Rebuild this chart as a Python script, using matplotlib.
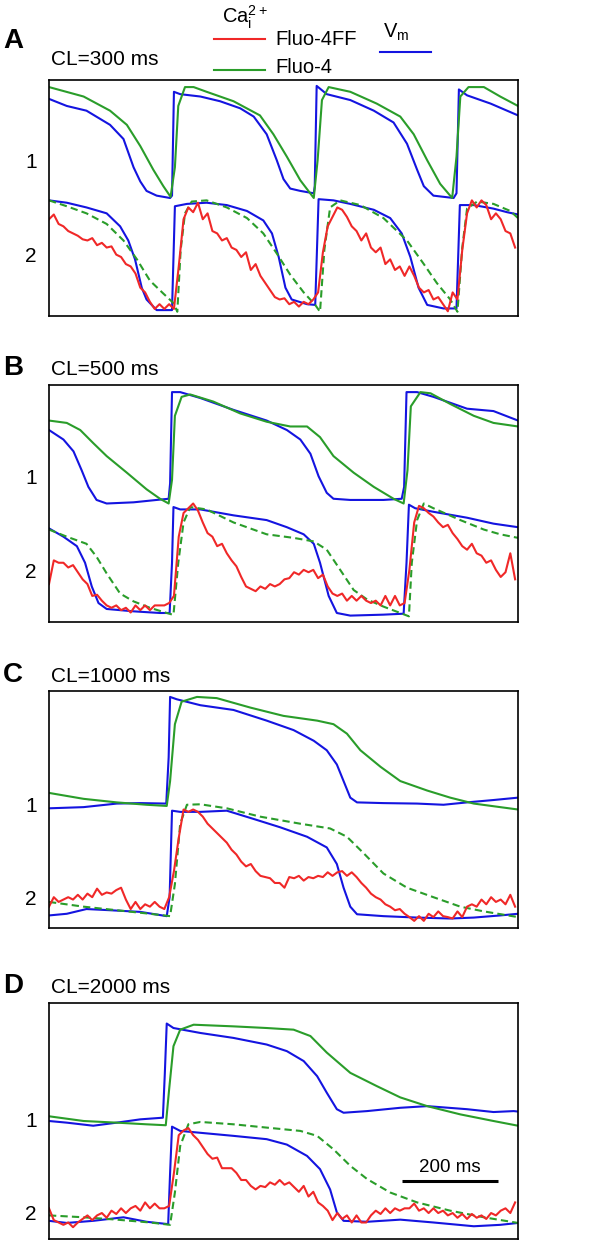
import numpy as np
import matplotlib.pyplot as plt

plt.rcParams['font.family'] = ['Liberation Sans', 'DejaVu Sans']

RED = '#f02828'
GREEN = '#2a9d2a'
BLUE = '#1414e0'

# Fluo-4FF sample times (ms), same for every panel
t_ff = np.arange(0, 980, 10)

# ---------- A: CL=300 ms  (time ms, signal % of panel height) ----------
a_vm1_t = [0, 37, 78, 127, 155, 176, 190, 203, 224, 252, 256, 260, 273, 315, 356, 398, 426, 453, 474, 488,
           502, 523, 551, 553, 557, 578, 627, 676, 717, 745, 766, 780, 800, 842, 848, 853, 870, 919, 976]
a_vm1_y = [92, 89, 87, 81, 75, 63, 57, 53, 51, 50, 51, 95, 94, 93, 91, 88, 84.5, 77, 66, 58,
           54, 53, 52, 55, 97.5, 94, 91.5, 87, 82, 73, 62, 55, 51, 50, 52, 96, 93.5, 90, 85]
a_ca1_t = [0, 72, 127, 162, 190, 217, 238, 253, 262, 269, 283, 301, 328, 384, 439, 467, 495, 523, 551,
           559, 568, 582, 627, 682, 731, 759, 787, 814, 839, 848, 856, 873, 905, 939, 976]
a_ca1_y = [97, 93, 87, 81, 72, 62, 55, 50.5, 63, 89, 97, 97, 95, 91, 85, 77, 67.5, 57.5, 50,
           66, 91.5, 97, 95, 90, 84.5, 77, 66, 56, 50, 67.5, 93, 97, 97, 93, 89]
a_vm2_t = [0, 37, 78, 120, 148, 165, 179, 193, 203, 224, 256, 262, 287, 328, 370, 412, 446, 464, 478, 492,
           505, 537, 554, 561, 592, 627, 676, 710, 734, 752, 769, 787, 821, 848, 855, 884, 925, 953, 976]
a_vm2_y = [49, 48, 46, 43.5, 38, 32, 24, 12, 7, 2.5, 2.5, 46.5, 47.5, 48, 47, 44.5, 40.5, 35, 25, 12,
           7, 5, 4.7, 49.5, 49, 47.5, 45, 41.5, 35, 25, 12, 4.7, 3.2, 3.2, 47, 47, 45.5, 44, 43]
a_ca2_t = [0, 37, 78, 120, 155, 183, 210, 238, 259, 267, 274, 283, 297, 328, 370, 412, 446, 474, 502, 530,
           554, 564, 573, 585, 606, 648, 696, 745, 780, 807, 835, 850, 860, 870, 891, 925, 960, 976]
a_ca2_y = [49, 46.5, 43.5, 39, 32, 24, 15, 9.5, 5.5, 1.8, 28, 43.5, 48.5, 49, 46, 41.5, 35, 26.5, 17.5, 10,
           4.7, 1.8, 28, 46, 49, 47, 41.5, 32, 22, 14, 7, 1.8, 29, 45.5, 48.5, 47.5, 44.5, 41.5]
a_ff_y = [41, 43, 39, 38, 36, 35, 34, 32.5, 32, 33,
          30, 31, 29, 29.5, 26, 25, 22, 21, 18, 12,
          10, 6, 3, 5, 3, 5, 3, 21, 41, 46,
          44, 48, 41, 43.5, 36, 35, 32, 33, 29, 28,
          25, 27, 19.5, 22, 17, 14, 11, 8, 7, 7.5,
          5, 6, 4, 6, 5, 7, 10, 27, 38, 42,
          46, 45, 42, 38, 36, 32, 35, 29, 27, 29,
          22, 24, 19.5, 21, 17, 21, 17, 12, 10, 11,
          7, 8, 5, 2, 10, 7, 28, 43.5, 49, 46,
          49, 47, 41, 43.5, 41, 36, 35, 29]

# ---------- B: CL=500 ms ----------
b_vm1_t = [0, 30, 51, 68, 82, 99, 120, 176, 224, 249, 252, 256, 273, 315, 384, 453, 495, 523, 544, 561,
           578, 592, 627, 696, 734, 739, 744, 766, 800, 870, 925, 976]
b_vm1_y = [81, 77, 72, 64, 57, 51.5, 50, 50.5, 51.5, 52, 58.5, 97, 97, 94.5, 89.5, 85, 81, 77, 71, 61.5,
           54.5, 52, 51.5, 51.5, 52, 57, 97, 97, 95, 90, 89, 85]
b_ca1_t = [0, 37, 65, 92, 120, 162, 203, 231, 249, 256, 262, 276, 294, 342, 398, 453, 502, 537, 564, 592,
           634, 676, 717, 738, 746, 753, 773, 794, 835, 884, 925, 976]
b_ca1_y = [85, 84, 81, 75.5, 70, 63, 56, 52, 50, 60, 87, 95, 96, 93, 88, 84.5, 82.5, 82.5, 78, 70,
           63, 57, 52, 50, 64, 91, 97, 96.5, 92, 87, 84, 82.5]
b_vm2_t = [0, 30, 58, 75, 89, 103, 120, 176, 231, 251, 256, 259, 273, 315, 384, 453, 495, 530, 551, 564,
           582, 599, 627, 696, 738, 744, 749, 762, 800, 870, 925, 976]
b_vm2_y = [39.5, 36, 32, 25, 15, 8, 5.5, 4.5, 3.8, 3.8, 25, 48.5, 47.5, 47.5, 45, 43, 40, 37, 33, 25,
           11, 3.8, 2.7, 3.1, 3.5, 25, 49.5, 48, 46.5, 44, 41.5, 40]
b_ca2_t = [0, 37, 78, 99, 120, 148, 176, 210, 245, 259, 269, 280, 294, 328, 384, 453, 509, 551, 578, 606,
           634, 662, 696, 731, 749, 755, 766, 780, 800, 856, 905, 939, 976]
b_ca2_y = [39, 36, 33, 27.5, 20.5, 12, 8.7, 6, 3.8, 3, 25, 42, 48.5, 47.5, 42, 37, 35.5, 34, 30.5, 22,
           13.5, 9.5, 6.5, 3.8, 2.4, 25, 43, 50, 48, 43, 39, 37, 35.5]
b_ff_y = [16, 26, 25, 25, 23, 24, 21, 18, 16, 11,
          11.5, 9, 7, 6, 7, 5, 6, 4, 7, 5,
          7, 5, 7, 7, 7, 8, 11, 36, 46, 48,
          50, 47, 42, 37.5, 36, 32, 33, 29, 26, 23.5,
          19, 15, 14, 13, 15, 14, 16, 15, 16, 18,
          18.5, 21, 20, 22, 21, 22, 18.5, 20, 15, 12,
          11, 12, 9, 11, 9, 11, 9, 8, 9, 7,
          11, 7, 11, 7, 8, 22, 42, 49, 48, 46,
          44.5, 42, 40, 41, 37.5, 35, 32, 30.5, 33, 29,
          28, 25, 26, 22, 19, 21, 29, 18]

# ---------- C: CL=1000 ms ----------
c_vm1_t = [0, 72, 141, 190, 244, 249, 252, 266, 315, 384, 453, 509, 551, 578, 599, 613, 627, 641, 696, 766,
           821, 870, 925, 976]
c_vm1_y = [50.5, 51, 52.5, 52.7, 52.5, 72, 97.5, 96.5, 94, 92, 87.5, 83.5, 79, 75, 69, 62, 55, 53, 52.7, 52.5,
           52, 53, 54, 55]
c_ca1_t = [0, 72, 141, 203, 245, 252, 262, 276, 308, 349, 419, 488, 558, 592, 620, 648, 690, 731, 787, 835,
           884, 939, 976]
c_ca1_y = [57, 54.5, 53, 52, 51.5, 62, 86, 95.5, 97.5, 97, 93, 89.5, 87.5, 86, 82, 75, 68, 62, 58, 55,
           52.5, 51, 50]
c_vm2_t = [0, 37, 78, 127, 190, 245, 251, 256, 273, 315, 370, 426, 481, 537, 578, 599, 613, 627, 641, 696,
           766, 835, 884, 939, 976]
c_vm2_y = [5.3, 6, 8, 7.5, 6.8, 5, 13, 49.5, 49, 49, 49.5, 46, 42.5, 38.5, 34, 27, 17, 9, 5.8, 5,
           4.4, 4, 4.4, 5.3, 6]
c_ca2_t = [0, 72, 141, 210, 252, 262, 273, 287, 315, 370, 439, 523, 585, 620, 655, 696, 745, 800, 856, 905,
           976]
c_ca2_y = [11, 9, 7.5, 6, 5, 18.5, 44, 52, 52.2, 50.5, 47, 44, 42, 38.5, 31.5, 23, 17, 13, 9, 7,
           4.6]
c_ff_y = [9, 13, 11, 12, 13, 12, 14, 12, 14.5, 13,
          16.6, 14, 15, 14.5, 16, 17, 12, 8, 11, 8,
          10, 9, 11, 9, 8, 13, 24, 38, 50, 49,
          50, 49, 47, 44, 42, 40, 38, 36, 33, 31,
          28, 26, 27, 24, 22, 21.5, 21, 19, 19, 17,
          21.5, 21, 22, 20, 21.5, 21, 22, 21.5, 23.5, 22,
          23.5, 24, 22, 23.5, 21.5, 19, 17, 14.5, 13, 12,
          10, 9, 7.5, 8, 6, 4.6, 3, 5, 3, 6,
          4.6, 7, 5, 4.6, 4, 7, 4.6, 9, 10, 9,
          12, 10, 13, 11, 12, 10, 14, 9]

# ---------- D: CL=2000 ms ----------
d_vm1_t = [0, 37, 92, 141, 190, 237, 241, 245, 259, 315, 384, 453, 495, 530, 558, 578, 599, 613, 662, 731,
           787, 870, 925, 967, 976]
d_vm1_y = [50, 49.3, 48, 49.3, 50.7, 51.4, 70, 91.3, 89.4, 87.3, 85.2, 82.4, 79.6, 75.4, 69, 62, 55, 53.5, 54.2, 55.6,
           56.3, 55, 53.8, 54.2, 54]
d_ca1_t = [0, 72, 141, 203, 243, 250, 259, 273, 301, 384, 453, 509, 544, 578, 627, 682, 731, 787, 856, 925,
           976]
d_ca1_y = [52, 50, 49.3, 48.6, 48.2, 63.4, 81.7, 88.7, 90.8, 90.1, 89.4, 88.7, 86, 79, 70.4, 64.8, 60, 56.3, 52.8, 50,
           48]
d_vm2_t = [0, 37, 92, 155, 203, 248, 252, 256, 273, 315, 384, 453, 495, 537, 564, 585, 599, 613, 662, 731,
           800, 884, 939, 976]
d_vm2_y = [7.7, 6.8, 7.7, 9.2, 7.3, 6.3, 28, 47.6, 45.8, 45, 43.7, 42.3, 40, 35.2, 29.6, 21, 11.3, 7.7, 7.3, 8.2,
           7, 5.4, 6, 6.8]
d_ca2_t = [0, 72, 141, 210, 252, 262, 273, 290, 315, 384, 453, 523, 558, 592, 627, 662, 710, 766, 835, 905,
           976]
d_ca2_y = [10, 9.2, 8.2, 7, 6, 19.7, 39.4, 48.6, 49.6, 48.6, 47.2, 45.8, 43.7, 38, 31, 25.4, 19.7, 15.5, 12, 9.2,
           6.8]
d_ff_y = [13, 8, 7, 6, 7, 5, 7, 8.5, 10, 8,
          10, 11, 9, 12, 10.6, 13, 11, 13, 14, 12,
          15.5, 13, 15, 13, 13, 14, 28, 44, 46, 47,
          44, 42, 39, 36, 34, 34.5, 30, 30, 30, 28,
          25, 25, 22.5, 21, 22.5, 22, 24, 23, 25, 23,
          24, 22, 20, 22.5, 18, 20, 15.5, 14, 12, 8,
          11, 8.5, 10, 7, 10, 7, 7, 10, 12, 10.6,
          13, 11, 13, 12, 13, 13, 15, 12, 13, 11,
          13, 11, 12, 10, 11, 9, 10.6, 8.5, 10.6, 9,
          10, 8.5, 11, 10, 12, 13, 11, 15.5]

panels = [
    ('A', 'CL=300 ms', a_vm1_t, a_vm1_y, a_ca1_t, a_ca1_y, a_vm2_t, a_vm2_y, a_ca2_t, a_ca2_y, a_ff_y),
    ('B', 'CL=500 ms', b_vm1_t, b_vm1_y, b_ca1_t, b_ca1_y, b_vm2_t, b_vm2_y, b_ca2_t, b_ca2_y, b_ff_y),
    ('C', 'CL=1000 ms', c_vm1_t, c_vm1_y, c_ca1_t, c_ca1_y, c_vm2_t, c_vm2_y, c_ca2_t, c_ca2_y, c_ff_y),
    ('D', 'CL=2000 ms', d_vm1_t, d_vm1_y, d_ca1_t, d_ca1_y, d_vm2_t, d_vm2_y, d_ca2_t, d_ca2_y, d_ff_y),
]

W, H = 594, 1241
fig = plt.figure(figsize=(W / 100, H / 100), dpi=100)

# pixel layout: box top, box bottom, letter baseline, CL baseline, "1" baseline, "2" baseline
layout = [(80, 316, 48, 65, 168, 262),
          (385, 622, 375, 375, 484, 578),
          (691, 928, 682, 682, 812, 905),
          (1003, 1239, 993, 993, 1127, 1220)]

axes = []
for (letter, cl, v1t, v1y, c1t, c1y, v2t, v2y, c2t, c2y, ffy), (top, bot, lb, tb, b1, b2) in zip(panels, layout):
    ax = fig.add_axes([49 / W, 1 - bot / H, 469 / W, (bot - top) / H])
    ax.plot(v1t, v1y, color=BLUE, lw=1.5)
    ax.plot(c1t, c1y, color=GREEN, lw=1.5)
    ax.plot(v2t, v2y, color=BLUE, lw=1.5)
    ax.plot(c2t, c2y, color=GREEN, lw=1.5, dashes=(3.5, 2))
    ax.plot(t_ff, ffy, color=RED, lw=1.5)
    ax.set_xlim(0, 976)
    ax.set_ylim(0, 100)
    ax.set_xticks([])
    ax.set_yticks([])
    for s in ax.spines.values():
        s.set_linewidth(1.2)
    axes.append(ax)

    fig.text(3 / W, 1 - lb / H, letter, fontsize=20, fontweight='bold', va='baseline')
    fig.text(51 / W, 1 - tb / H, cl, fontsize=15, va='baseline')
    fig.text(31 / W, 1 - b1 / H, '1', fontsize=15, va='baseline', ha='center')
    fig.text(31 / W, 1 - b2 / H, '2', fontsize=15, va='baseline', ha='center')

# legend
fig.text(222 / W, 1 - 23 / H, r'Ca$_\mathregular{i}^\mathregular{2+}$', fontsize=14.5, va='baseline')
fig.add_artist(plt.Line2D([214 / W, 265 / W], [1 - 39 / H, 1 - 39 / H], color=RED, lw=1.5))
fig.text(275 / W, 1 - 45 / H, 'Fluo-4FF', fontsize=14.5, va='baseline')
fig.add_artist(plt.Line2D([214 / W, 265 / W], [1 - 70 / H, 1 - 70 / H], color=GREEN, lw=1.5))
fig.text(275 / W, 1 - 73 / H, 'Fluo-4', fontsize=14.5, va='baseline')
fig.text(383 / W, 1 - 38 / H, r'V$_\mathregular{m}$', fontsize=14.5, va='baseline')
fig.add_artist(plt.Line2D([380 / W, 431 / W], [1 - 52 / H, 1 - 52 / H], color=BLUE, lw=1.5))

# 200 ms scale bar in panel D
axes[3].plot([734, 934], [24.6, 24.6], color='black', lw=2.2, solid_capstyle='butt')
axes[3].text(834, 28.6, '200 ms', fontsize=13.5, ha='center', va='baseline')

fig.savefig('out.png', dpi=100)
